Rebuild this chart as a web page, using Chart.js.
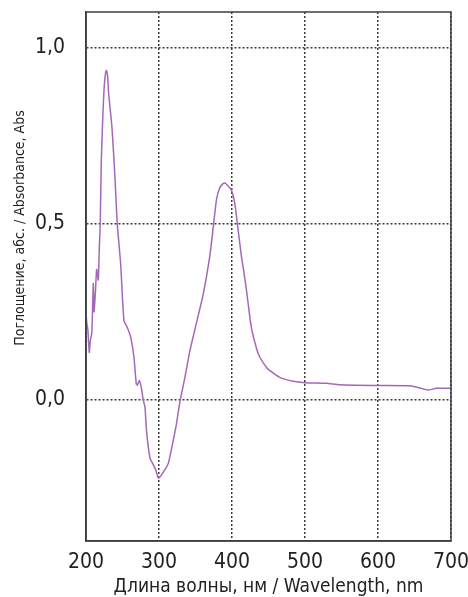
<!DOCTYPE html>
<html>
<head>
<meta charset="utf-8">
<script src="https://cdn.jsdelivr.net/npm/chart.js@4/dist/chart.umd.min.js"></script>
<style>
  html, body { margin: 0; padding: 0; background: #ffffff; }
  #wrap { width: 468px; height: 597px; }
</style>
</head>
<body>
<div id="wrap"><canvas id="c" width="468" height="597"></canvas></div>
<script>
// Wavelength (nm) and absorbance
const wavelengths = [200, 201, 202.5, 204.5, 206, 208, 210, 211, 213, 214.6, 216.8, 218.2, 219.5, 221, 222.8, 225, 227, 228, 229.5, 231,
  235.6, 239.7, 242.8, 247.5, 252, 256.5, 261.2, 265.7, 268.9, 270.5, 273, 275.7, 278.4, 280.8, 283, 287.6, 291.3, 295.8, 299.5, 305.8,
  312.7, 316, 319.5, 324, 328.7, 335.5, 342.4, 351.5, 360.6, 369.7, 374.3, 378.9, 383, 387, 390.3, 394, 399.4, 403.9, 408.5, 413.1,
  415.3, 419.9, 424.5, 427, 433.7, 438.2, 447.3, 451.9, 465.5, 483.8, 499.8, 529.5, 547.7, 597.9, 643.5, 657, 668.6, 680, 700];
const absorbance = [0.25, 0.22, 0.20, 0.135, 0.17, 0.19, 0.33, 0.25, 0.31, 0.37, 0.34, 0.43, 0.50, 0.68, 0.79, 0.89, 0.93, 0.934, 0.92, 0.869,
  0.772, 0.63, 0.50, 0.385, 0.225, 0.206, 0.178, 0.121, 0.045, 0.042, 0.055, 0.036, 0.0, -0.021, -0.09, -0.165, -0.18, -0.20, -0.222, -0.205,
  -0.18, -0.15, -0.115, -0.067, -0.005, 0.064, 0.14, 0.22, 0.30, 0.41, 0.49, 0.57, 0.60, 0.612, 0.615, 0.608, 0.594, 0.556, 0.48, 0.404,
  0.376, 0.31, 0.234, 0.20, 0.145, 0.121, 0.092, 0.083, 0.064, 0.053, 0.049, 0.047, 0.043, 0.041, 0.040, 0.034, 0.028, 0.033, 0.033];
const xTickValues = [200, 300, 400, 500, 600, 700];
const yTickValues = [0.0, 0.5, 1.0];
const xTitle = 'Длина волны, нм / Wavelength, nm';
const yTitle = 'Поглощение, абс. / Absorbance, Abs';

const FONT = "'Liberation Sans Narrow', 'DejaVu Sans Condensed', sans-serif";
const points = wavelengths.map((w, i) => ({ x: w, y: absorbance[i] }));

function zeroPad(s) { s.paddingLeft = 0; s.paddingRight = 0; s.paddingTop = 0; s.paddingBottom = 0; }

const framePlugin = {
  id: 'frame',
  afterDraw(chart) {
    const { ctx, chartArea: a } = chart;
    ctx.save();
    ctx.setLineDash([]);
    ctx.strokeStyle = '#3a3f44';
    ctx.lineWidth = 1.5;
    ctx.strokeRect(a.left, a.top, a.right - a.left, a.bottom - a.top);
    ctx.fillStyle = '#222222';
    ctx.font = '14px ' + FONT;
    ctx.translate(20, 228);
    ctx.rotate(-Math.PI / 2);
    ctx.textAlign = 'center';
    ctx.textBaseline = 'middle';
    ctx.fillText(yTitle, 0, 0);
    ctx.restore();
  }
};

new Chart(document.getElementById('c'), {
  type: 'line',
  data: {
    datasets: [{
      data: points,
      borderColor: '#a469b6',
      borderWidth: 1.5,
      pointRadius: 0,
      tension: 0.2,
      fill: false
    }]
  },
  options: {
    responsive: false,
    animation: false,
    layout: { padding: { left: 0, right: 17, top: 12, bottom: 0 } },
    plugins: { legend: { display: false }, tooltip: { enabled: false } },
    scales: {
      x: {
        type: 'linear',
        min: 200, max: 700,
        afterBuildTicks: s => { s.ticks = xTickValues.map(v => ({ value: v })); },
        afterFit: s => { s.height = 56; zeroPad(s); },
        ticks: { color: '#222', padding: 9, font: { family: FONT, size: 21 }, maxRotation: 0 },
        grid: { color: '#3a3a3a', lineWidth: 1.5, drawTicks: false },
        border: { display: true, color: '#3a3f44', width: 1.5, dash: [2, 2] },
        title: { display: true, text: xTitle, color: '#222', font: { family: FONT, size: 19, lineHeight: 1 }, padding: { top: 0, bottom: 0 } }
      },
      y: {
        type: 'linear',
        min: -0.4, max: 1.1,
        afterBuildTicks: s => { s.ticks = yTickValues.map(v => ({ value: v })); },
        afterFit: s => { s.width = 86; zeroPad(s); },
        ticks: { color: '#222', padding: 21, font: { family: FONT, size: 21 },
          callback: v => v.toFixed(1).replace('.', ',') },
        grid: { color: '#3a3a3a', lineWidth: 1.5, drawTicks: false },
        border: { display: true, color: '#3a3f44', width: 1.5, dash: [2, 2] }
      }
    }
  },
  plugins: [framePlugin]
});
</script>
</body>
</html>
